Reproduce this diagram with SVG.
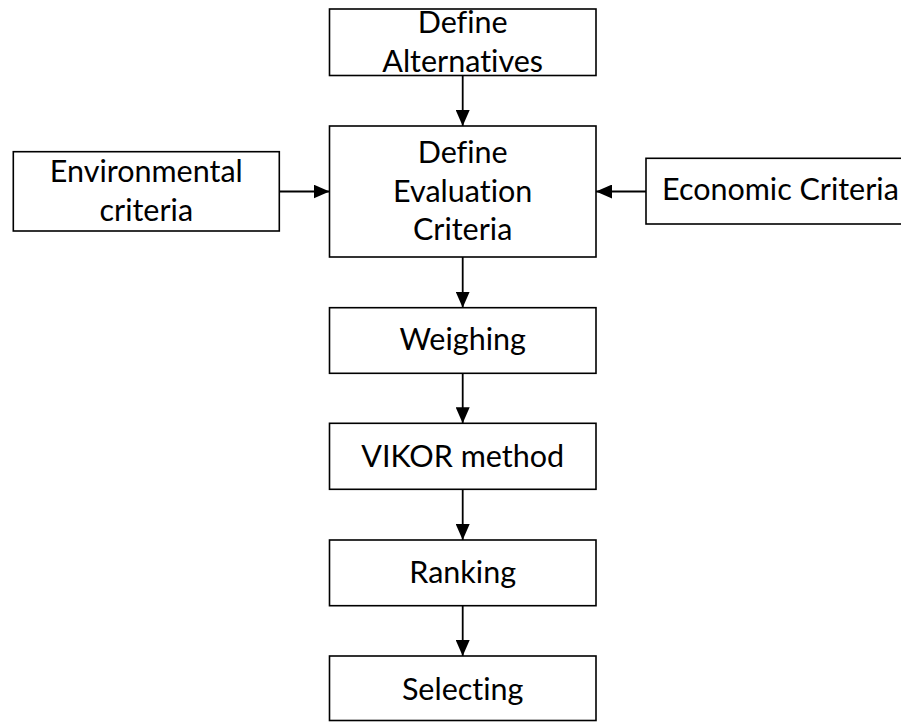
<svg xmlns="http://www.w3.org/2000/svg" width="901" height="722" viewBox="0 0 901 722">
  <style>
    .box { fill: #ffffff; stroke: #000000; stroke-width: 1.6; }
    .lbl { font-family: Lato, "Liberation Sans", sans-serif; font-size: 30.5px; fill: #000000; text-anchor: middle; font-variant-ligatures: none; }
    .edge { stroke: #000000; stroke-width: 1.8; fill: none; marker-end: url(#head); }
  </style>
  <defs>
    <marker id="head" markerWidth="16" markerHeight="14" refX="16" refY="7" orient="auto" markerUnits="userSpaceOnUse">
      <path d="M0,0 L16,7 L0,14 Z" fill="#000000"/>
    </marker>
  </defs>
  <rect width="901" height="722" fill="#ffffff"/>

  <g id="connectors">
    <line class="edge" x1="462.7" y1="75.5" x2="462.7" y2="126"/>
    <line class="edge" x1="279.3" y1="191.5" x2="329.5" y2="191.5"/>
    <line class="edge" x1="646" y1="191.5" x2="596" y2="191.5"/>
    <line class="edge" x1="462.7" y1="257" x2="462.7" y2="307.7"/>
    <line class="edge" x1="462.7" y1="373.3" x2="462.7" y2="423.3"/>
    <line class="edge" x1="462.7" y1="489.3" x2="462.7" y2="540"/>
    <line class="edge" x1="462.7" y1="605.7" x2="462.7" y2="656"/>
  </g>

  <g id="define-alternatives">
    <rect class="box" x="329.5" y="9" width="266.5" height="66.5"/>
    <text class="lbl" x="462.7" y="33">Define</text>
    <text class="lbl" x="462.7" y="72">Alternatives</text>
  </g>

  <g id="define-evaluation-criteria">
    <rect class="box" x="329.5" y="126" width="266.5" height="131"/>
    <text class="lbl" x="462.7" y="162.7">Define</text>
    <text class="lbl" x="462.7" y="201.7">Evaluation</text>
    <text class="lbl" x="462.7" y="240">Criteria</text>
  </g>

  <g id="environmental-criteria">
    <rect class="box" x="13.3" y="151.7" width="266" height="79.3"/>
    <text class="lbl" x="146.3" y="182">Environmental</text>
    <text class="lbl" x="146.3" y="220.5">criteria</text>
  </g>

  <g id="economic-criteria">
    <rect class="box" x="646" y="158.3" width="270" height="65.7"/>
    <text class="lbl" x="662" y="200" style="text-anchor:start">Economic Criteria</text>
  </g>

  <g id="weighing">
    <rect class="box" x="329.5" y="307.7" width="266.5" height="65.6"/>
    <text class="lbl" x="462.7" y="350">Weighing</text>
  </g>

  <g id="vikor-method">
    <rect class="box" x="329.5" y="423.3" width="266.5" height="66"/>
    <text class="lbl" x="462.7" y="466.7">VIKOR method</text>
  </g>

  <g id="ranking">
    <rect class="box" x="329.5" y="540" width="266.5" height="65.7"/>
    <text class="lbl" x="462.7" y="583">Ranking</text>
  </g>

  <g id="selecting">
    <rect class="box" x="329.5" y="656" width="266.5" height="64.5"/>
    <text class="lbl" x="462.7" y="700">Selecting</text>
  </g>
</svg>
